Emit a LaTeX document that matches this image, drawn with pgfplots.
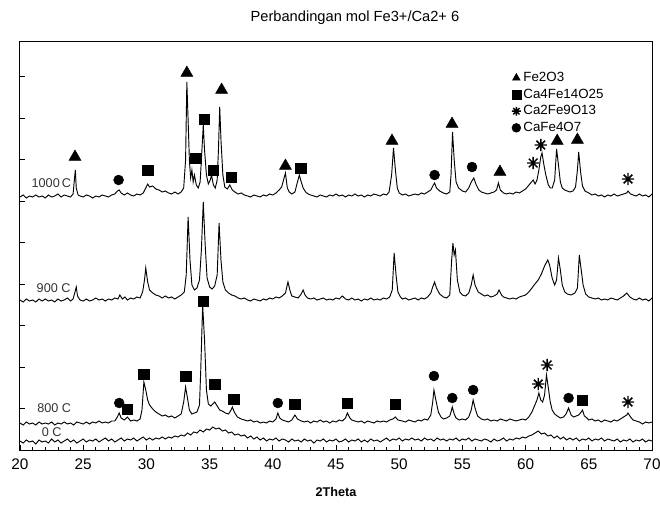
\documentclass[border=0pt]{standalone}
\usepackage{fontspec}
\setmainfont{Liberation Sans}
\usepackage{pgfplots}
\pgfplotsset{compat=1.18}

% eight-armed asterisk like the original plot
\pgfdeclareplotmark{ast8}{%
  \pgfpathmoveto{\pgfqpoint{-\pgfplotmarksize}{0pt}}\pgfpathlineto{\pgfqpoint{\pgfplotmarksize}{0pt}}%
  \pgfpathmoveto{\pgfqpoint{0pt}{-\pgfplotmarksize}}\pgfpathlineto{\pgfqpoint{0pt}{\pgfplotmarksize}}%
  \pgfpathmoveto{\pgfqpoint{-.707\pgfplotmarksize}{-.707\pgfplotmarksize}}\pgfpathlineto{\pgfqpoint{.707\pgfplotmarksize}{.707\pgfplotmarksize}}%
  \pgfpathmoveto{\pgfqpoint{-.707\pgfplotmarksize}{.707\pgfplotmarksize}}\pgfpathlineto{\pgfqpoint{.707\pgfplotmarksize}{-.707\pgfplotmarksize}}%
  \pgfusepathqstroke}

\begin{document}
\begin{tikzpicture}
\useasboundingbox (-15pt,-40.5pt) rectangle (480pt,337.5pt);
\begin{axis}[
  scale only axis, width=474pt, height=306pt,
  xmin=20, xmax=70, ymin=0, ymax=408,
  xtick={20,25,...,70}, minor x tick num=4,
  ytick={41.5,83,...,373.5}, yticklabels={},
  xtick pos=left, ytick pos=left, tick align=inside,
  major tick length=4pt, minor tick length=2.5pt,
  every tick/.style={black, line width=0.6pt},
  axis line style={line width=0.75pt},
  /pgf/number format/assume math mode=true,
  tick label style={font=\fontsize{11.5}{12}\selectfont},
  xticklabel style={yshift=-3pt},
  title={Perbandingan mol Fe3+/Ca2+ 6},
  title style={font=\fontsize{11}{13}\selectfont, at={(axis description cs:0.53,1)}, anchor=center, yshift=12pt},
  xlabel={2Theta},
  xlabel style={font=\fontsize{9.5}{11}\selectfont\bfseries, at={(axis description cs:0.5,0)}, anchor=center, yshift=-31.5pt},
  legend style={at={(axis description cs:0.778,0.933)}, anchor=north west, draw=none, fill=none,
    font=\fontsize{10}{11}\selectfont, row sep=0pt, inner sep=0pt, cells={anchor=west}},
  legend image code/.code={\draw[#1, mark size=3.3pt] plot coordinates {(0.1cm,0cm)};},
]
% phase markers
\addplot[only marks, mark=triangle*, mark size=5.2pt, black] coordinates {
 (24.35,293) (33.2,377) (35.95,360) (41.0,284) (49.43,309) (54.18,326) (57.97,278) (62.5,309) (64.1,310)};
\addlegendentry{Fe2O3}
\addplot[only marks, mark=square*, mark size=3.9pt, black] coordinates {
 (30.1,280) (33.9,292) (34.6,331) (35.3,280) (36.7,273) (42.2,282)
 (28.5,41) (29.8,76) (33.1,74) (34.5,149) (35.4,66) (36.9,51) (41.75,46) (45.9,47) (49.7,46) (64.5,50)};
\addlegendentry{Ca4Fe14O25}
\addplot[only marks, mark=ast8, mark size=4.6pt, black, line width=1.1pt] coordinates {
 (60.6,287) (61.2,305) (68.1,271) (61.0,66) (61.7,85) (68.1,48)};
\addlegendentry{Ca2Fe9O13}
\addplot[only marks, mark=*, mark size=3.7pt, black] coordinates {
 (27.8,270) (52.8,275) (55.76,283) (27.85,47) (40.4,47) (52.75,74) (54.2,52) (55.85,60) (63.4,52)};
\addlegendentry{CaFe4O7}

% 0 C
\addplot[black, line width=0.7pt, forget plot] coordinates {
(20,9)(20.25,7)(20.5,10)(20.75,8)(21,9)(21.25,6)(21.5,10)(21.75,8)(22,9)(22.25,7)(22.5,11)(22.75,8)(23,10)(23.25,7)(23.5,9)(23.75,11)(24,8)(24.25,10)(24.5,7)(24.75,9)
(25,11)(25.25,8)(25.5,10)(25.75,9)(26,11)(26.25,8)(26.5,10)(26.75,12)(27,9)(27.25,11)(27.5,8)(27.75,10)(28,12)(28.25,9)(28.5,11)(28.75,10)(29,12)(29.25,9)(29.5,11)(29.75,13)
(30,10)(30.25,12)(30.5,10)(30.75,12)(31,11)(31.25,13)(31.5,11)(31.75,13)(32,12)(32.25,14)(32.5,13)(32.75,15)(33,14)(33.25,17)(33.5,15)(33.75,18)(34,17)(34.25,20)(34.5,18)(34.75,21)
(35,20)(35.25,23)(35.5,21)(35.75,22)(36,19)(36.25,20)(36.5,17)(36.75,18)(37,15)(37.25,16)(37.5,14)(37.75,15)(38,12)(38.25,14)(38.5,11)(38.75,13)(39,10)(39.25,12)(39.5,9)(39.75,11)
(40,10)(40.25,12)(40.5,9)(40.75,11)(41,10)(41.25,8)(41.5,11)(41.75,9)(42,10)(42.25,8)(42.5,11)(42.75,9)(43,10)(43.25,7)(43.5,10)(43.75,9)(44,11)(44.25,8)(44.5,10)(44.75,9)
(45,11)(45.25,8)(45.5,9)(45.75,11)(46,8)(46.25,10)(46.5,9)(46.75,11)(47,8)(47.25,10)(47.5,8)(47.75,11)(48,9)(48.25,10)(48.5,8)(48.75,10)(49,12)(49.25,9)(49.5,11)(49.75,10)
(50,12)(50.25,9)(50.5,11)(50.75,10)(51,12)(51.25,10)(51.5,11)(51.75,9)(52,12)(52.25,10)(52.5,11)(52.75,9)(53,12)(53.25,10)(53.5,11)(53.75,9)(54,11)(54.25,10)(54.5,12)(54.75,9)
(55,11)(55.25,10)(55.5,12)(55.75,9)(56,11)(56.25,10)(56.5,9)(56.75,11)(57,10)(57.25,8)(57.5,11)(57.75,9)(58,10)(58.25,12)(58.5,9)(58.75,11)(59,10)(59.25,12)(59.5,11)(59.75,13)
(60,12)(60.25,14)(60.5,15)(60.75,17)(61,19)(61.25,16)(61.5,17)(61.75,14)(62,15)(62.25,12)(62.5,14)(62.75,11)(63,13)(63.25,10)(63.5,12)(63.75,10)(64,12)(64.25,9)(64.5,11)(64.75,10)
(65,12)(65.25,9)(65.5,11)(65.75,10)(66,12)(66.25,9)(66.5,11)(66.75,10)(67,9)(67.25,11)(67.5,8)(67.75,10)(68,9)(68.25,11)(68.5,8)(68.75,10)(69,9)(69.25,11)(69.5,8)(69.75,10)(70,9)};

% 800 C
\addplot[black, line width=0.7pt, forget plot] coordinates {
(20,27)(20.25,25)(20.5,28)(20.75,26)(21,27)(21.25,25)(21.5,28)(21.75,26)(22,27)(22.25,26)(22.5,28)(22.75,25)(23,27)(23.25,26)(23.5,28)(23.75,26)(24,27)(24.25,25)(24.5,28)(24.75,27)
(25,26)(25.25,28)(25.5,26)(25.75,28)(26,27)(26.25,29)(26.5,27)(26.75,28)(27,27)(27.25,29)(27.5,29)(27.7,33)(27.85,37)(28,32)(28.25,30)(28.5,33)(28.75,29)(29,30)(29.25,29)(29.5,31)
(29.65,40)(29.8,68)(29.95,60)(30.1,50)(30.25,45)(30.5,41)(30.75,38)(31,36)(31.25,34)(31.5,35)(31.75,33)(32,34)(32.25,32)(32.5,34)(32.75,36)(32.95,48)(33.1,63)(33.25,52)(33.4,40)(33.6,36)
(33.8,37)(34,38)(34.2,45)(34.3,80)(34.45,145)(34.6,110)(34.75,60)(34.9,46)(35.1,44)(35.25,46)(35.4,48)(35.6,44)(35.8,40)(36,39)(36.25,37)(36.5,36)(36.7,40)(36.8,43)(36.95,38)(37.2,33)
(37.5,31)(37.75,30)(38,29)(38.25,30)(38.5,28)(38.75,29)(39,27)(39.25,28)(39.5,27)(39.75,29)(40,28)(40.25,31)(40.4,37)(40.55,32)(40.75,30)(41,29)(41.25,28)(41.5,30)(41.75,35)(41.95,31)
(42.25,29)(42.5,28)(42.75,29)(43,27)(43.25,29)(43.5,28)(43.75,30)(44,28)(44.25,29)(44.5,27)(44.75,29)(45,28)(45.25,30)(45.5,29)(45.75,32)(45.9,37)(46.1,32)(46.25,30)(46.5,29)(46.75,28)
(47,29)(47.25,27)(47.5,29)(47.75,28)(48,27)(48.25,29)(48.5,28)(48.75,29)(49,28)(49.25,30)(49.5,31)(49.7,33)(49.9,30)(50.25,29)(50.5,28)(50.75,30)(51,29)(51.25,28)(51.5,30)(51.75,29)
(52,31)(52.25,30)(52.5,35)(52.65,48)(52.75,60)(52.9,50)(53.1,38)(53.3,33)(53.5,31)(53.75,32)(54,34)(54.1,38)(54.2,43)(54.35,36)(54.5,32)(54.75,30)(55,31)(55.25,30)(55.5,33)(55.7,40)
(55.85,50)(56,42)(56.2,34)(56.5,31)(56.75,30)(57,31)(57.25,29)(57.5,30)(57.75,29)(58,31)(58.25,30)(58.5,29)(58.75,31)(59,30)(59.25,29)(59.5,30)(59.75,31)(60,30)(60.25,33)(60.5,38)
(60.7,44)(60.9,50)(61.05,57)(61.2,50)(61.35,48)(61.5,55)(61.65,75)(61.8,62)(61.95,48)(62.1,40)(62.3,36)(62.5,34)(62.75,32)(63,33)(63.2,36)(63.4,42)(63.6,35)(63.8,33)(64,34)(64.2,35)
(64.4,38)(64.5,40)(64.65,34)(64.85,32)(65,30)(65.25,31)(65.5,29)(65.75,30)(66,28)(66.25,30)(66.5,29)(66.75,28)(67,30)(67.25,29)(67.5,31)(67.75,33)(68,35)(68.1,37)(68.3,33)(68.5,30)
(68.75,29)(69,28)(69.25,26)(69.5,28)(69.75,27)(70,28)};

% 900 C
\addplot[black, line width=0.7pt, forget plot] coordinates {
(20,150)(20.25,148)(20.5,151)(20.75,149)(21,150)(21.25,148)(21.5,151)(21.75,149)(22,151)(22.25,149)(22.5,150)(22.75,148)(23,151)(23.25,149)(23.5,150)(23.75,152)(24,149)(24.2,151)(24.35,158)(24.45,163)
(24.55,154)(24.75,150)(25,149)(25.25,151)(25.5,149)(25.75,150)(26,152)(26.25,150)(26.5,151)(26.75,149)(27,151)(27.25,150)(27.5,152)(27.75,151)(27.9,155)(28.1,151)(28.3,153)(28.5,150)(28.75,152)(29,151)
(29.25,153)(29.5,152)(29.7,158)(29.85,170)(29.95,182)(30.1,168)(30.25,160)(30.5,157)(30.75,155)(31,154)(31.25,152)(31.5,154)(31.75,152)(32,153)(32.25,151)(32.5,153)(32.75,155)(33,158)(33.15,175)(33.3,233)
(33.45,190)(33.6,165)(33.8,160)(34,162)(34.2,170)(34.35,200)(34.5,248)(34.65,205)(34.8,172)(35,163)(35.2,161)(35.4,164)(35.6,175)(35.75,227)(35.9,190)(36.05,168)(36.25,160)(36.5,157)(36.75,155)(37,154)
(37.25,152)(37.5,151)(37.75,152)(38,150)(38.25,149)(38.5,151)(38.75,150)(39,149)(39.25,151)(39.5,150)(39.75,152)(40,151)(40.25,153)(40.5,152)(40.75,154)(41,157)(41.2,168)(41.35,160)(41.5,154)(41.75,153)
(42,152)(42.25,156)(42.4,160)(42.55,155)(42.75,152)(43,151)(43.25,152)(43.5,150)(43.75,151)(44,152)(44.25,150)(44.5,151)(44.75,150)(45,152)(45.25,151)(45.5,154)(45.75,151)(46,150)(46.25,152)(46.5,150)
(46.75,151)(47,149)(47.25,151)(47.5,150)(47.75,152)(48,150)(48.25,151)(48.5,150)(48.75,152)(49,151)(49.25,153)(49.45,160)(49.6,197)(49.75,175)(49.9,158)(50.1,153)(50.25,151)(50.5,152)(50.75,150)(51,151)
(51.25,152)(51.5,150)(51.75,152)(52,151)(52.25,153)(52.5,157)(52.65,163)(52.8,168)(52.95,162)(53.2,156)(53.5,153)(53.75,152)(54,155)(54.15,190)(54.25,207)(54.35,195)(54.45,200)(54.6,170)(54.8,158)(55,155)
(55.25,154)(55.5,157)(55.7,165)(55.85,175)(56,165)(56.25,158)(56.5,156)(56.75,154)(57,155)(57.25,153)(57.5,154)(57.75,156)(57.9,160)(58.1,155)(58.25,153)(58.5,152)(58.75,151)(59,152)(59.25,151)(59.5,153)
(59.75,154)(60,155)(60.25,158)(60.5,162)(60.8,167)(61,170)(61.25,176)(61.5,184)(61.75,190)(61.9,185)(62.1,172)(62.3,165)(62.45,170)(62.6,192)(62.75,180)(62.9,165)(63.1,158)(63.3,156)(63.6,155)(63.9,157)
(64.1,162)(64.25,195)(64.4,180)(64.55,165)(64.75,156)(65,153)(65.25,152)(65.5,151)(65.75,152)(66,150)(66.25,151)(66.5,150)(66.75,152)(67,151)(67.25,150)(67.5,152)(67.75,154)(68,157)(68.25,153)(68.5,151)
(68.75,150)(69,152)(69.25,150)(69.5,151)(69.75,149)(70,152)};

% 1000 C
\addplot[black, line width=0.7pt, forget plot] coordinates {
(20,253)(20.25,255)(20.5,252)(20.75,254)(21,253)(21.25,255)(21.5,253)(21.75,254)(22,252)(22.25,255)(22.5,253)(22.75,254)(23,256)(23.25,253)(23.5,255)(23.75,254)(24,253)(24.2,256)(24.3,270)(24.38,280)
(24.45,262)(24.6,255)(24.75,254)(25,253)(25.25,255)(25.5,254)(25.75,252)(26,254)(26.25,253)(26.5,255)(26.75,254)(27,253)(27.25,255)(27.5,256)(27.7,259)(27.85,260)(28,257)(28.25,255)(28.5,257)(28.75,255)
(29,254)(29.25,256)(29.5,255)(29.75,257)(29.95,262)(30.1,266)(30.25,263)(30.5,264)(30.75,261)(31,260)(31.25,258)(31.5,259)(31.75,257)(32,256)(32.25,258)(32.5,256)(32.75,258)(32.95,262)(33.1,290)(33.2,368)
(33.3,330)(33.4,290)(33.5,272)(33.6,280)(33.7,268)(33.8,275)(33.95,265)(34.1,262)(34.25,268)(34.35,290)(34.5,325)(34.6,300)(34.75,275)(34.9,266)(35.05,270)(35.15,275)(35.3,265)(35.45,262)(35.6,270)(35.7,300)
(35.8,343)(35.9,310)(36.05,275)(36.2,263)(36.4,261)(36.6,265)(36.8,260)(37,258)(37.25,256)(37.5,257)(37.75,255)(38,254)(38.25,253)(38.5,255)(38.75,254)(39,253)(39.25,255)(39.5,254)(39.75,256)(40,255)
(40.25,257)(40.5,260)(40.7,263)(40.85,270)(41,277)(41.15,262)(41.3,258)(41.5,256)(41.75,258)(41.95,268)(42.1,275)(42.25,268)(42.4,262)(42.6,258)(42.8,256)(43,255)(43.25,254)(43.5,253)(43.75,255)(44,254)
(44.25,253)(44.5,255)(44.75,254)(45,256)(45.25,254)(45.5,255)(45.75,253)(46,255)(46.25,254)(46.5,256)(46.75,254)(47,255)(47.25,253)(47.5,255)(47.75,254)(48,256)(48.25,255)(48.5,254)(48.75,256)(49,255)
(49.2,258)(49.4,275)(49.55,302)(49.7,280)(49.85,262)(50,257)(50.25,255)(50.5,256)(50.75,254)(51,255)(51.25,256)(51.5,255)(51.75,257)(52,256)(52.25,258)(52.5,260)(52.7,265)(52.8,267)(52.95,262)(53.2,259)
(53.5,257)(53.75,256)(54,258)(54.1,275)(54.22,318)(54.35,290)(54.5,268)(54.7,262)(55,259)(55.25,258)(55.5,262)(55.7,268)(55.9,272)(56.1,265)(56.3,260)(56.5,258)(56.75,257)(57,256)(57.25,257)(57.5,258)
(57.7,260)(57.85,267)(58,260)(58.25,257)(58.5,256)(58.75,257)(59,256)(59.25,258)(59.5,257)(59.75,259)(60,261)(60.2,264)(60.4,267)(60.6,270)(60.75,266)(60.9,270)(61.05,280)(61.2,293)(61.3,297)(61.45,285)
(61.6,275)(61.8,265)(61.95,262)(62.1,262)(62.3,270)(62.45,301)(62.6,285)(62.75,268)(62.9,262)(63.1,260)(63.3,259)(63.5,258)(63.75,259)(63.95,263)(64.1,280)(64.2,298)(64.35,278)(64.5,264)(64.7,259)(65,257)
(65.25,255)(65.5,256)(65.75,254)(66,255)(66.25,253)(66.5,255)(66.75,254)(67,256)(67.25,254)(67.5,255)(67.75,256)(68,257)(68.1,259)(68.3,256)(68.5,255)(68.75,254)(69,256)(69.25,254)(69.5,255)(69.75,253)(70,256)};

% trace labels
\node[anchor=west, font=\fontsize{9.5}{11}\selectfont, text=black!80] at (axis cs:20.55,267) {1000\,C};
\node[anchor=west, font=\fontsize{9.5}{11}\selectfont, text=black!80] at (axis cs:20.95,162) {900 C};
\node[anchor=west, font=\fontsize{9.5}{11}\selectfont, text=black!80] at (axis cs:21.0,42) {800 C};
\node[anchor=west, font=\fontsize{9.5}{11}\selectfont, text=black!80] at (axis cs:21.35,18) {0 C};
\end{axis}
\end{tikzpicture}
\end{document}
